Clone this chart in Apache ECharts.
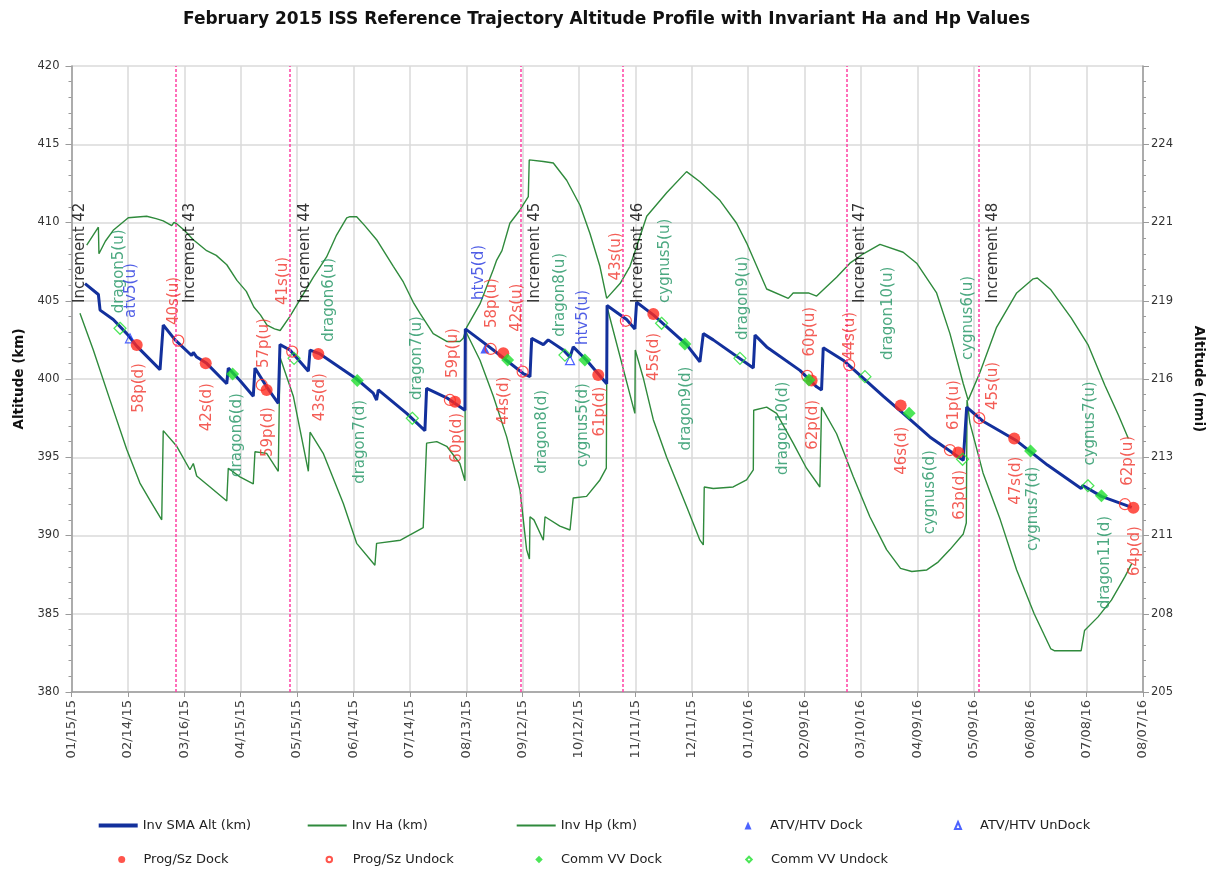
<!DOCTYPE html>
<html><head><meta charset="utf-8">
<script src="https://cdn.jsdelivr.net/npm/echarts@6/dist/echarts.min.js"></script>
<style>html,body{margin:0;padding:0;background:#fff}#c{width:1213px;height:871px}</style>
</head><body><div id="c"></div>
<script>
// ---------- data (x = days since 01/15/15, y = km) ----------
const xTickLabels = ['01/15/15','02/14/15','03/16/15','04/15/15','05/15/15','06/14/15','07/14/15','08/13/15','09/12/15','10/12/15','11/11/15','12/11/15','01/10/16','02/09/16','03/10/16','04/09/16','05/09/16','06/08/16','07/08/16','08/07/16'];
const nmiTickLabels = ['205','208','211','213','216','219','221','224',''];

const smaAlt = [[7.2,406.1],[14.3,405.4],[15.2,404.4],[22.2,403.8],[29.4,402.9],[34.7,402.1],[47.1,400.6],[48.8,403.45],[55.1,402.5],[63.9,401.5],[64.8,401.7],[66.6,401.4],[71.9,401.0],[82.6,399.7],[83.4,400.7],[89.6,399.9],[96.7,398.9],[97.6,400.7],[103.8,399.5],[110.0,398.45],[110.9,402.2],[116.2,401.85],[126.0,400.5],[126.9,401.85],[132.2,401.6],[151.7,400.0],[160.5,399.1],[162.3,398.65],[163.2,399.3],[178.3,397.8],[188.0,396.7],[188.9,399.4],[199.6,398.8],[209.3,398.0],[209.5,403.2],[217.3,402.5],[224.4,401.85],[240.3,400.35],[243.9,400.15],[244.8,402.6],[251.0,402.2],[253.6,402.5],[261.6,401.85],[265.2,401.4],[266.9,402.05],[274.0,401.2],[284.7,399.7],[284.9,404.7],[295.3,403.8],[299.7,403.2],[300.6,404.9],[309.5,404.1],[327.2,402.2],[334.3,401.1],[336.1,402.9],[341.4,402.5],[362.7,400.7],[363.6,402.8],[369.8,402.05],[387.5,400.55],[396.4,399.5],[399.0,399.3],[399.9,402.0],[410.5,401.2],[431.8,398.9],[442.4,397.8],[456.6,396.3],[463.7,395.7],[474.4,394.8],[476.2,398.2],[484.9,397.3],[502.8,396.05],[519.2,394.5],[537.1,393.0],[538.0,393.2],[547.9,392.5],[564.0,391.8]];

const invHa = [[8.1,408.56],[14.3,409.7],[14.6,408.0],[18,408.8],[22.2,409.5],[30.2,410.3],[35,410.35],[40.0,410.4],[45,410.25],[48.8,410.1],[53.3,409.8],[54.5,410.0],[55.6,409.95],[60,409.5],[64.8,408.9],[71.9,408.2],[77,407.9],[82.6,407.3],[88,406.3],[93,405.6],[97,404.6],[100.5,404.1],[104,403.45],[108,403.2],[111,403.1],[116.2,404.0],[121.5,405.05],[128.6,406.5],[135.7,407.8],[141,409.2],[146.4,410.3],[148.1,410.37],[151.7,410.37],[156,409.8],[162.3,408.9],[171.2,407.2],[176.5,406.2],[181.8,404.9],[185.4,404.2],[192.4,402.9],[199.6,402.4],[206.6,402.4],[208.4,402.6],[210.2,403.3],[217.3,404.8],[224.4,407.0],[226.2,407.6],[229,408.2],[233.2,409.95],[238.6,410.8],[243.0,411.65],[243.5,414.0],[251,413.9],[256.3,413.8],[263.4,412.7],[270.5,411.1],[275.8,409.3],[281.1,407.2],[284.7,405.15],[291.8,406.1],[297.1,407.2],[300.6,408.45],[306.0,410.4],[316.6,411.9],[327.2,413.25],[334.3,412.6],[345,411.4],[353.8,409.95],[359.1,408.7],[369.8,405.75],[381.3,405.15],[383.9,405.5],[392,405.5],[396.4,405.3],[407.0,406.5],[414.1,407.4],[421.2,408.0],[430.1,408.6],[442.4,408.1],[449.6,407.4],[460.2,405.5],[467.3,402.9],[474.4,399.7],[477.0,398.65],[483.2,400.4],[492.1,403.3],[502.8,405.5],[511.6,406.4],[513.8,406.45],[521,405.7],[531.8,403.9],[540.7,402.2],[549.7,399.6],[556.9,397.7],[562.2,396.2]];

const invHp = [[4.5,404.2],[11.6,401.85],[20.5,398.65],[29.4,395.5],[36.4,393.35],[42,392.2],[48.0,391.0],[48.8,396.7],[56.0,395.7],[63.0,394.2],[64.8,394.6],[66.6,393.8],[73.7,393.1],[82.6,392.2],[83.4,394.3],[89.6,393.75],[96.7,393.3],[97.6,395.35],[103.8,395.25],[110.0,394.1],[110.9,401.4],[118.0,398.9],[126.0,394.1],[126.9,396.6],[133.9,395.25],[144.6,392.05],[151.7,389.5],[161.4,388.1],[162.3,389.5],[175,389.7],[187.1,390.5],[188.9,395.9],[194.3,396.0],[199.6,395.7],[206.6,394.6],[209.3,393.5],[209.5,403.1],[217.3,401.2],[224.4,398.9],[231.5,396.3],[238.6,392.9],[242.1,389.1],[243.6,388.5],[243.9,391.2],[246,391.0],[251.0,389.7],[251.9,391.2],[259.8,390.6],[265.2,390.35],[266.9,392.4],[274.0,392.5],[281.1,393.55],[284.5,394.3],[284.9,404.6],[299.7,397.8],[299.9,401.85],[304.1,400.1],[309.5,397.4],[316.6,395.0],[327.2,391.85],[334.3,389.7],[336.1,389.4],[336.6,393.1],[341.4,393.0],[352.0,393.1],[359.1,393.55],[362.7,394.2],[362.9,398.0],[369.8,398.2],[375.1,397.8],[383.9,395.9],[391,394.3],[398.1,393.1],[399.0,398.2],[407.0,396.5],[415.9,393.75],[424.7,391.2],[433.6,389.1],[441,387.9],[447,387.7],[455,387.8],[461,388.3],[467.3,389.1],[474.4,390.1],[476.0,390.8],[476.4,398.65],[477.9,397.2],[484.9,394.0],[494.1,391.0],[502.8,387.8],[512.1,385.0],[521,382.75],[522.8,382.64],[537.1,382.64],[538.9,383.93],[546.1,384.8],[553.2,385.87],[560.4,387.37],[564.0,388.2]];

const atvHtvDock = [[219.9,401.92]];
const atvHtvUndock = [[31.1,402.6],[265.2,401.2]];
const progSzDock = [[34.7,402.17],[71.4,401.0],[103.8,399.3],[131.3,401.6],[204.0,398.55],[229.7,401.64],[280.2,400.25],[309.5,404.15],[393.7,399.9],[441.1,398.3],[471.7,395.3],[501.5,396.2],[564.9,391.78]];
const progSzUndock = [[56.8,402.45],[101.2,399.62],[117.4,401.75],[201.3,398.66],[223.0,401.92],[240.0,400.47],[294.9,403.72],[391.4,400.2],[413.7,400.89],[467.3,395.46],[482.9,397.5],[560.4,392.0]];
const commVVDock = [[85.7,400.32],[152.0,399.9],[232.0,401.21],[273.1,401.21],[326.3,402.23],[392.3,399.94],[445.6,397.81],[510.2,395.4],[547.9,392.54]];
const commVVUndock = [[25.8,403.24],[118.4,401.32],[181.3,397.49],[262.5,401.53],[313.9,403.56],[355.6,401.32],[422.1,400.15],[474.0,394.87],[540.7,393.18]];

const incrementDays = [55.6,116.0,239.0,293.5,412.5,482.6];
const incrementNames = ['Increment 42','Increment 43','Increment 44','Increment 45','Increment 46','Increment 47','Increment 48'];
const incrementLabelDays = [4.5,63.1,124.2,246.5,301.5,419.4,490.3];
const incrementLabelKm = 404.86;

// event labels: text, day, km (anchor = end of text nearest the curve), side (u = above, d = below), colour key
const eventText = ['dragon5(u)','atv5(u)','40s(u)','57p(u)','41s(u)','dragon6(u)','dragon7(u)','59p(u)','htv5(d)','58p(u)','42s(u)','dragon8(u)','htv5(u)','43s(u)','cygnus5(u)','dragon9(u)','60p(u)','44s(u)','dragon10(u)','cygnus6(u)','61p(u)','45s(u)','cygnus7(u)','62p(u)',
  '58p(d)','42s(d)','dragon6(d)','59p(d)','43s(d)','dragon7(d)','60p(d)','44s(d)','dragon8(d)','cygnus5(d)','61p(d)','45s(d)','dragon9(d)','dragon10(d)','62p(d)','46s(d)','cygnus6(d)','63p(d)','47s(d)','cygnus7(d)','dragon11(d)','64p(d)'];
const eventDay = [25.1,31.6,54.7,102.4,112.7,137.1,183.6,202.8,216.8,223.5,236.8,259.8,272.2,289.6,315.7,357.3,392.8,414.1,434.5,477.0,469.4,490.3,541.6,562.2,
  35.9,71.9,87.9,104.7,132.2,153.5,204.9,230.1,250.1,272.2,281.1,310.0,327.2,378.6,394.6,441.6,456.6,472.6,502.4,511.6,549.7,565.8];
const eventKm = [404.2,403.9,403.45,400.7,404.73,402.38,398.66,400.06,405.05,403.26,403.02,402.7,402.17,406.3,404.86,402.49,401.43,401.21,401.21,401.21,396.74,398.02,394.47,393.18,
  401.02,399.74,399.1,398.2,400.38,398.66,397.83,400.15,399.3,399.74,399.51,402.94,400.79,399.83,398.66,396.95,395.46,394.19,395.04,394.4,391.25,390.6];
const eventSide = ['u','u','u','u','u','u','u','u','u','u','u','u','u','u','u','u','u','u','u','u','u','u','u','u',
  'd','d','d','d','d','d','d','d','d','d','d','d','d','d','d','d','d','d','d','d','d','d'];
const eventColor = ['g','b','r','r','r','g','g','r','b','r','r','g','b','r','g','g','r','r','g','g','r','r','g','r',
  'r','r','g','r','r','g','r','r','g','g','r','r','g','g','r','r','g','r','r','g','g','r'];

// ---------- styling ----------
const FONT = '"DejaVu Sans", "Liberation Sans", Arial, sans-serif';
const C = { sma:'#13309c', green:'#2f8a3c', red:'#ff2a1f', blue:'#1f3cff', vv:'#1fe02e', pink:'#ff3fa4', grid:'#dadada', axis:'#9a9a9a' };
const labelColors = { r:'#f0352c', g:'#1f9461', b:'#2436e0' };

const eventData = eventText.map((t,i) => ({
  value:[eventDay[i], eventKm[i]],
  label:{ formatter:t, color:labelColors[eventColor[i]], align: eventSide[i]==='u' ? 'left' : 'right' }
}));
const incrementData = incrementNames.map((t,i) => ({ value:[incrementLabelDays[i], incrementLabelKm], label:{formatter:t} }));

function legendItem(name, center, row, w, h, textStart, icon) {
  // center: icon centre x (or icon left for line icons when icon === 'rect')
  const left = icon ? center : center - w / 2;
  const pad = textStart - (left + w + 5);
  const l = {
    data:[name], left:left, top:row - 6, itemWidth:w, itemHeight:h, selectedMode:false, padding:0,
    textStyle:{ fontSize:13, color:'#222', fontFamily:FONT, padding:[0,0,0,Math.max(0,pad)] }
  };
  if (icon) l.icon = icon;
  return l;
}
const r1 = 825, r2 = 859;

const option = {
  animation:false,
  backgroundColor:'#fff',
  textStyle:{ fontFamily:FONT },
  title:{ text:'February 2015 ISS Reference Trajectory Altitude Profile with Invariant Ha and Hp Values', left:'center', top:6,
    textStyle:{ fontSize:17, fontWeight:'bold', color:'#111', fontFamily:FONT } },
  grid:{ left:71.5, right:70, top:66, bottom:179 },
  legend:[
    legendItem('Inv SMA Alt (km)', 98.7, r1, 39, 4, 142.7, 'rect'),
    legendItem('Inv Ha (km)', 307.7, r1, 39, 2, 351.7, 'rect'),
    legendItem('Inv Hp (km)', 516.7, r1, 39, 2, 560.7, 'rect'),
    legendItem('ATV/HTV Dock', 748, r1, 7, 8, 770),
    legendItem('ATV/HTV UnDock', 957, r1, 6, 7, 979),
    legendItem('Prog/Sz Dock', 121.7, r2, 7, 7, 143.5),
    legendItem('Prog/Sz Undock', 328.3, r2, 5.5, 5.5, 351.7),
    legendItem('Comm VV Dock', 539, r2, 7.5, 7.5, 561),
    legendItem('Comm VV Undock', 748, r2, 5.5, 5.5, 770)
  ],
  xAxis:{ type:'value', min:0, max:570, interval:30,
    axisLine:{ lineStyle:{ color:C.axis, width:1.5 } },
    axisTick:{ show:true, length:5, lineStyle:{ color:C.axis } },
    axisLabel:{ rotate:90, margin:8, fontSize:13, color:'#444', fontFamily:FONT,
      formatter:(v) => xTickLabels[Math.round(v/30)] },
    splitLine:{ show:true, lineStyle:{ color:C.grid, width:1.5 } } },
  yAxis:[
    { type:'value', min:380, max:420, interval:5, position:'left',
      name:'Altitude (km)', nameLocation:'middle', nameGap:45, nameRotate:90,
      nameTextStyle:{ fontWeight:'bold', fontSize:13.5, color:'#111', fontFamily:FONT },
      axisLine:{ show:true, lineStyle:{ color:C.axis, width:1.5 } },
      axisTick:{ show:true, length:6, lineStyle:{ color:C.axis } },
      minorTick:{ show:true, splitNumber:5, length:3, lineStyle:{ color:C.axis } },
      axisLabel:{ fontSize:11.5, color:'#333', margin:12, fontFamily:FONT },
      splitLine:{ show:true, lineStyle:{ color:C.grid, width:1.5 } } },
    { type:'value', min:380, max:420, interval:5, position:'right',
      name:'Altitude (nmi)', nameLocation:'middle', nameGap:48, nameRotate:-90,
      nameTextStyle:{ fontWeight:'bold', fontSize:13.5, color:'#111', fontFamily:FONT },
      axisLine:{ show:true, lineStyle:{ color:C.axis, width:1.5 } },
      axisTick:{ show:true, length:6, lineStyle:{ color:C.axis } },
      minorTick:{ show:true, splitNumber:5, length:3, lineStyle:{ color:C.axis } },
      axisLabel:{ fontSize:11.5, color:'#333', margin:8, fontFamily:FONT, formatter:(v) => nmiTickLabels[Math.round((v-380)/5)] },
      splitLine:{ show:false } }
  ],
  series:[
    { name:'Inv Ha (km)', type:'line', data:invHa, symbol:'none', lineStyle:{ color:C.green, width:1.4 }, itemStyle:{ color:C.green }, z:2 },
    { name:'Inv Hp (km)', type:'line', data:invHp, symbol:'none', lineStyle:{ color:C.green, width:1.4 }, itemStyle:{ color:C.green }, z:2 },
    { name:'Inv SMA Alt (km)', type:'line', data:smaAlt, symbol:'none', lineStyle:{ color:C.sma, width:3 }, itemStyle:{ color:C.sma }, z:3,
      markLine:{ silent:true, symbol:['none','none'], label:{ show:false }, lineStyle:{ color:C.pink, type:[3,2], width:1.5 },
        data: incrementDays.map(d => ({ xAxis:d })) } },
    { name:'ATV/HTV Dock', type:'scatter', data:atvHtvDock, symbol:'triangle', symbolSize:9, itemStyle:{ color:C.blue }, z:4 },
    { name:'ATV/HTV UnDock', type:'scatter', data:atvHtvUndock, symbol:'triangle', symbolSize:9, itemStyle:{ color:'rgba(255,255,255,0)', borderColor:C.blue, borderWidth:1.2 }, z:4 },
    { name:'Prog/Sz Dock', type:'scatter', data:progSzDock, symbol:'circle', symbolSize:12, itemStyle:{ color:C.red }, z:4 },
    { name:'Prog/Sz Undock', type:'scatter', data:progSzUndock, symbol:'circle', symbolSize:11, itemStyle:{ color:'rgba(255,255,255,0)', borderColor:C.red, borderWidth:1.2 }, z:4 },
    { name:'Comm VV Dock', type:'scatter', data:commVVDock, symbol:'diamond', symbolSize:13, itemStyle:{ color:C.vv }, z:4 },
    { name:'Comm VV Undock', type:'scatter', data:commVVUndock, symbol:'diamond', symbolSize:12, itemStyle:{ color:'rgba(255,255,255,0)', borderColor:C.vv, borderWidth:1.2 }, z:4 },
    { name:'event labels', type:'scatter', data:eventData, symbolSize:0, silent:true, z:5,
      label:{ show:true, position:'inside', rotate:90, verticalAlign:'middle', fontSize:15, fontFamily:FONT } },
    { name:'increment labels', type:'scatter', data:incrementData, symbolSize:0, silent:true, z:5,
      label:{ show:true, position:'inside', rotate:90, align:'left', verticalAlign:'middle', fontSize:15, color:'#000', fontFamily:FONT } }
  ]
};
const chart = echarts.init(document.getElementById('c'), null, { renderer:'canvas' });
chart.setOption(option);
</script>
</body></html>
